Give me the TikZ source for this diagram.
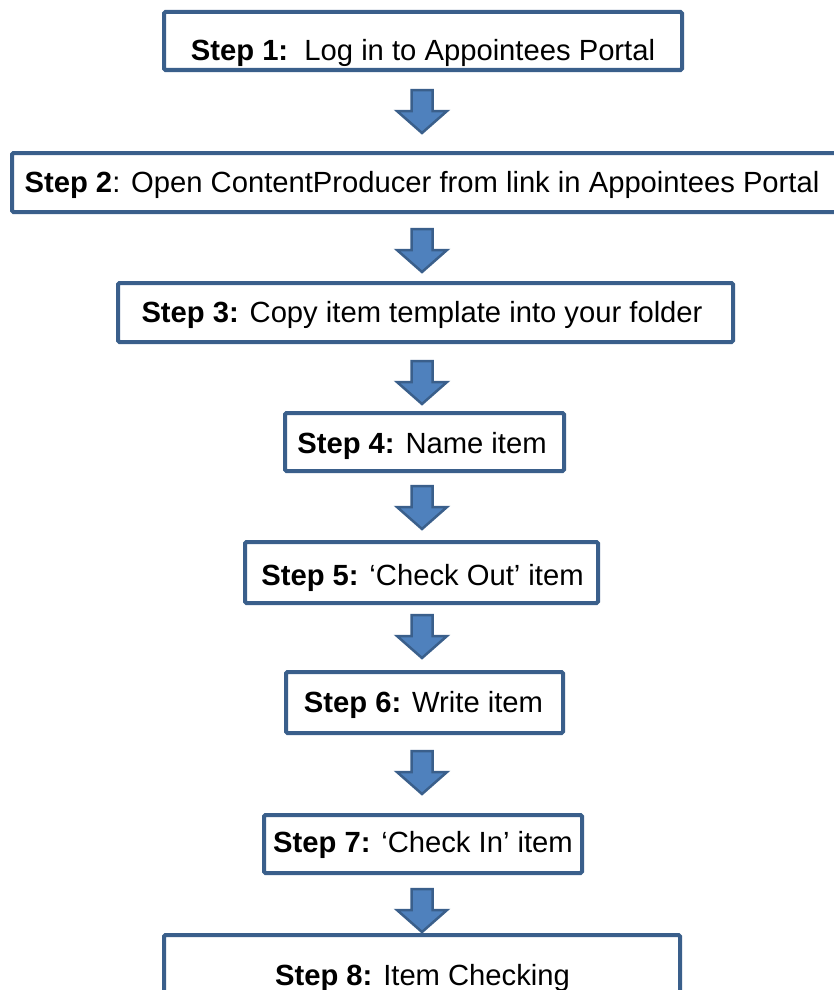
\documentclass[tikz,border=0pt]{standalone}
\usepackage{fontspec}
\setmainfont{Liberation Sans}
\definecolor{boxline}{HTML}{3A5F8B}
\definecolor{arrowfill}{HTML}{4F81BD}
\begin{document}
\begin{tikzpicture}[x=1pt,y=-1pt,
  stepbox/.style={draw=boxline, line width=4pt, fill=white, rounded corners=1.5pt, inner sep=0pt},
  steptext/.style={anchor=base, inner sep=0pt, font=\fontsize{29.2}{35}\selectfont},
  pics/blockarrow/.style={code={
    \filldraw[fill=arrowfill, draw=boxline, line width=2.5pt, line join=miter]
      (-10.5,1) -- (10.5,1) -- (10.5,22) -- (25,22) -- (0,44) -- (-25,22) -- (-10.5,22) -- cycle;}}]
\useasboundingbox (0,0) rectangle (834,990);
\clip (0,0) rectangle (834,990);
\fill[white] (0,0) rectangle (834,990);

% boxes
\node[stepbox, minimum width=518pt, minimum height=58pt] (b1) at (423,41) {};
\node[stepbox, minimum width=840pt, minimum height=59pt] (b2) at (432,182.5) {};
\node[stepbox, minimum width=615pt, minimum height=59pt] (b3) at (425.5,312.5) {};
\node[stepbox, minimum width=279pt, minimum height=58pt] (b4) at (424.5,442) {};
\node[stepbox, minimum width=353pt, minimum height=61pt] (b5) at (421.5,572.5) {};
\node[stepbox, minimum width=277pt, minimum height=61pt] (b6) at (424.5,702.5) {};
\node[stepbox, minimum width=318pt, minimum height=58pt] (b7) at (423,844) {};
\node[stepbox, minimum width=516pt, minimum height=60pt] (b8) at (422,965) {};

% texts
\node[steptext] (t1) at (423,61) {\textbf{Step 1:}\ \ Log in to Appointees Portal};
\node[steptext] (t2) at (422,192.5) {\textbf{Step 2}: Open ContentProducer from link in Appointees Portal};
\node[steptext] (t3) at (422,322) {\textbf{Step 3:} Copy item template into your folder};
\node[steptext] (t4) at (422,453) {\textbf{Step 4:} Name item};
\node[steptext] (t5) at (422.5,585) {\textbf{Step 5:} ‘Check Out’ item};
\node[steptext] (t6) at (423.5,712) {\textbf{Step 6:} Write item};
\node[steptext] (t7) at (423,852) {\textbf{Step 7:} ‘Check In’ item};
\node[steptext] (t8) at (422.5,985) {\textbf{Step 8:} Item Checking};

% block arrows
\pic (a1) at (422,89) {blockarrow};
\pic (a2) at (422,228) {blockarrow};
\pic (a3) at (422,360) {blockarrow};
\pic (a4) at (422,485) {blockarrow};
\pic (a5) at (422,614) {blockarrow};
\pic (a6) at (422,750) {blockarrow};
\pic (a7) at (422,888) {blockarrow};
\end{tikzpicture}
\end{document}
